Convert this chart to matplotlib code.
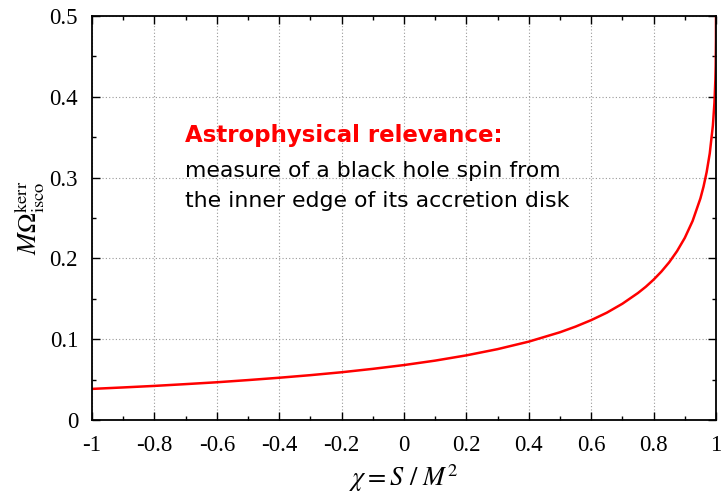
import numpy as np
import matplotlib.pyplot as plt
from matplotlib.ticker import MultipleLocator

plt.rcParams['font.family'] = 'Liberation Serif'
plt.rcParams['mathtext.fontset'] = 'stix'

# ISCO orbital frequency vs spin
chi = [-1.0, -0.9, -0.8, -0.7, -0.6, -0.5, -0.4, -0.3, -0.2, -0.1, 0.0,
       0.1, 0.2, 0.3, 0.4, 0.5, 0.55, 0.6, 0.65, 0.7, 0.75, 0.775, 0.8,
       0.825, 0.85, 0.875, 0.9, 0.925, 0.95, 0.96, 0.97, 0.98, 0.99,
       0.995, 0.998, 0.999, 0.9999, 1.0]
omega = [0.0385, 0.0403, 0.0422, 0.0444, 0.0467, 0.0494, 0.0523, 0.0555,
         0.0591, 0.0633, 0.0680, 0.0735, 0.0800, 0.0877, 0.0970, 0.1086,
         0.1156, 0.1236, 0.1328, 0.1439, 0.1572, 0.1649, 0.1737, 0.1837,
         0.1952, 0.2089, 0.2254, 0.2463, 0.2742, 0.2888, 0.3067, 0.3300,
         0.3644, 0.3925, 0.4213, 0.4379, 0.4710, 0.5]

xticks = [-1, -0.8, -0.6, -0.4, -0.2, 0, 0.2, 0.4, 0.6, 0.8, 1]
xticklabels = ['-1', '-0.8', '-0.6', '-0.4', '-0.2', '0', '0.2', '0.4', '0.6', '0.8', '1']
yticks = [0, 0.1, 0.2, 0.3, 0.4, 0.5]
yticklabels = ['0', '0.1', '0.2', '0.3', '0.4', '0.5']

fig = plt.figure(figsize=(7.22, 4.95), dpi=100)
ax = fig.add_axes([92/722, 1 - 420/495, (716-92)/722, (420-16)/495])

ax.plot(chi, omega, color='red', lw=1.8)

ax.set_xlim(-1, 1)
ax.set_ylim(0, 0.5)
ax.set_xticks(xticks)
ax.set_xticklabels(xticklabels)
ax.set_yticks(yticks)
ax.set_yticklabels(yticklabels)
ax.xaxis.set_minor_locator(MultipleLocator(0.1))
ax.yaxis.set_minor_locator(MultipleLocator(0.05))
ax.tick_params(which='both', direction='in', top=True, right=True,
               labelsize=16.5, width=1)
ax.tick_params(which='major', length=6)
ax.tick_params(axis='x', which='major', pad=11)
ax.tick_params(axis='y', which='major', pad=10)
ax.tick_params(which='minor', length=3)
ax.grid(True, which='major', ls=(0, (1, 2)), color='#999999', lw=0.8)
for s in ax.spines.values():
    s.set_linewidth(1.3)

ax.set_xlabel(r'$\chi = S\ /\ M^2$', fontsize=19, labelpad=4)
ax.set_ylabel(r'$M\Omega^{\mathrm{kerr}}_{\mathrm{isco}}$', fontsize=19, labelpad=2)

ax.text(-0.702, 0.3444, 'Astrophysical relevance:', color='red',
        fontsize=16.5, fontweight='bold', family='DejaVu Sans', va='baseline')
ax.text(-0.702, 0.3011, 'measure of a black hole spin from', color='black',
        fontsize=15.8, family='DejaVu Sans', va='baseline')
ax.text(-0.702, 0.2636, 'the inner edge of its accretion disk', color='black',
        fontsize=15.8, family='DejaVu Sans', va='baseline')

fig.savefig('out.png', dpi=100)
